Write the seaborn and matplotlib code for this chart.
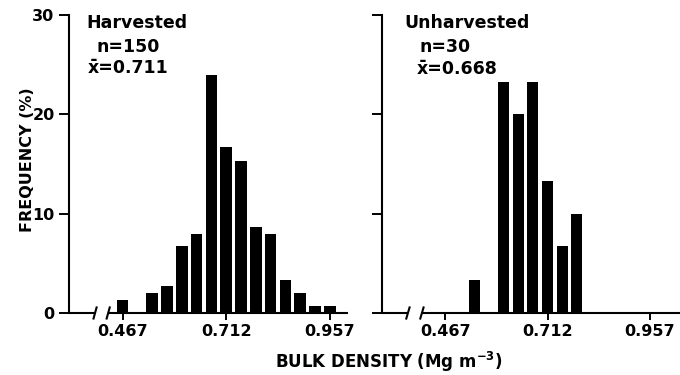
import matplotlib
matplotlib.use("Agg")
import matplotlib.pyplot as plt
import seaborn as sns
import pandas as pd

# ---- data ----
harv_x = [0.467, 0.537, 0.572, 0.607, 0.642, 0.677, 0.712, 0.747, 0.782, 0.817, 0.852, 0.887, 0.922, 0.957]
harv_y = [1.3, 2.0, 2.7, 6.7, 8.0, 24.0, 16.7, 15.3, 8.7, 8.0, 3.3, 2.0, 0.7, 0.7]

unharv_x = [0.537, 0.607, 0.642, 0.677, 0.712, 0.747, 0.782]
unharv_y = [3.3, 23.3, 20.0, 23.3, 13.3, 6.7, 10.0]

x_ticks = [0.467, 0.712, 0.957]
x_tick_labels = ["0.467", "0.712", "0.957"]
y_ticks = [0, 10, 20, 30]

panels = [
    ("Harvested", "n=150", "x\u0304=0.711"),
    ("Unharvested", "n=30", "x\u0304=0.668"),
]

sns.set_theme(style="ticks")
plt.rcParams["font.family"] = ["DejaVu Sans"]
plt.rcParams["font.weight"] = "bold"
plt.rcParams["mathtext.default"] = "bf"
plt.rcParams["text.color"] = "black"
plt.rcParams["axes.labelcolor"] = "black"

fig = plt.figure(figsize=(6.8, 3.75), dpi=100)
W, H = 680.0, 375.0
ax1 = fig.add_axes([68.5 / W, 62 / H, 279.5 / W, 298 / H])
ax2 = fig.add_axes([382 / W, 62 / H, 298 / W, 298 / H])

df1 = pd.DataFrame({"x": harv_x, "y": harv_y})
df2 = pd.DataFrame({"x": unharv_x, "y": unharv_y})

sns.barplot(data=df1, x="x", y="y", native_scale=True, width=0.78,
            color="black", errorbar=None, linewidth=0, ax=ax1)
sns.barplot(data=df2, x="x", y="y", native_scale=True, width=0.76,
            color="black", errorbar=None, linewidth=0, ax=ax2)

lims = [(0.339, 1.0), (0.316, 1.029)]
breaks = [(0.095, 0.142), (0.087, 0.134)]
txt_pos = [
    [(0.065, 0.955), (0.099, 0.877), (0.069, 0.804)],
    [(0.074, 0.955), (0.125, 0.877), (0.118, 0.802)],
]

for i, ax in enumerate([ax1, ax2]):
    ax.set_xlim(*lims[i])
    ax.set_ylim(0, 30)
    ax.set_xticks(x_ticks)
    ax.set_xticklabels(x_tick_labels, fontsize=11.5, fontweight="bold")
    ax.set_yticks(y_ticks)
    if i == 0:
        ax.set_yticklabels([str(v) for v in y_ticks], fontsize=11.5, fontweight="bold")
    else:
        ax.set_yticklabels([])
    ax.set_xlabel("")
    ax.set_ylabel("")
    ax.set_facecolor("none")
    for s in ["top", "right", "bottom"]:
        ax.spines[s].set_visible(False)
    ax.spines["left"].set_linewidth(1.5)
    ax.spines["left"].set_color("black")
    ax.tick_params(axis="x", direction="out", length=5, width=1.4, pad=3,
                   colors="black", labelcolor="black")
    ax.tick_params(axis="y", direction="out", length=7, width=1.4, pad=3,
                   colors="black", labelcolor="black")

    # broken x axis line
    b1, b2 = breaks[i]
    kw = dict(transform=ax.transAxes, clip_on=False, color="black", lw=1.5,
              solid_capstyle="butt")
    ax.plot([0, b1], [0, 0], **kw)
    ax.plot([b2, 1], [0, 0], **kw)
    dx, dy = 0.013, 0.022
    ax.plot([b1 - dx / 2, b1 + dx / 2], [-dy, dy], **kw)
    ax.plot([b2 - dx / 2, b2 + dx / 2], [-dy, dy], **kw)

    title, ntxt, mtxt = panels[i]
    for (tx, ty), s in zip(txt_pos[i], [title, ntxt, mtxt]):
        ax.text(tx, ty, s, transform=ax.transAxes, fontsize=12.5,
                fontweight="bold", ha="left", va="baseline", color="black")

fig.text(27 / W, 0.573, "FREQUENCY (%)", rotation=90, fontsize=11.5,
         fontweight="bold", ha="center", va="center", color="black")
fig.text(389 / W, 7 / H, "BULK DENSITY (Mg m$^{-3}$)", fontsize=12,
         fontweight="bold", ha="center", va="baseline", color="black")

fig.savefig("out.png", dpi=100, facecolor="white")
